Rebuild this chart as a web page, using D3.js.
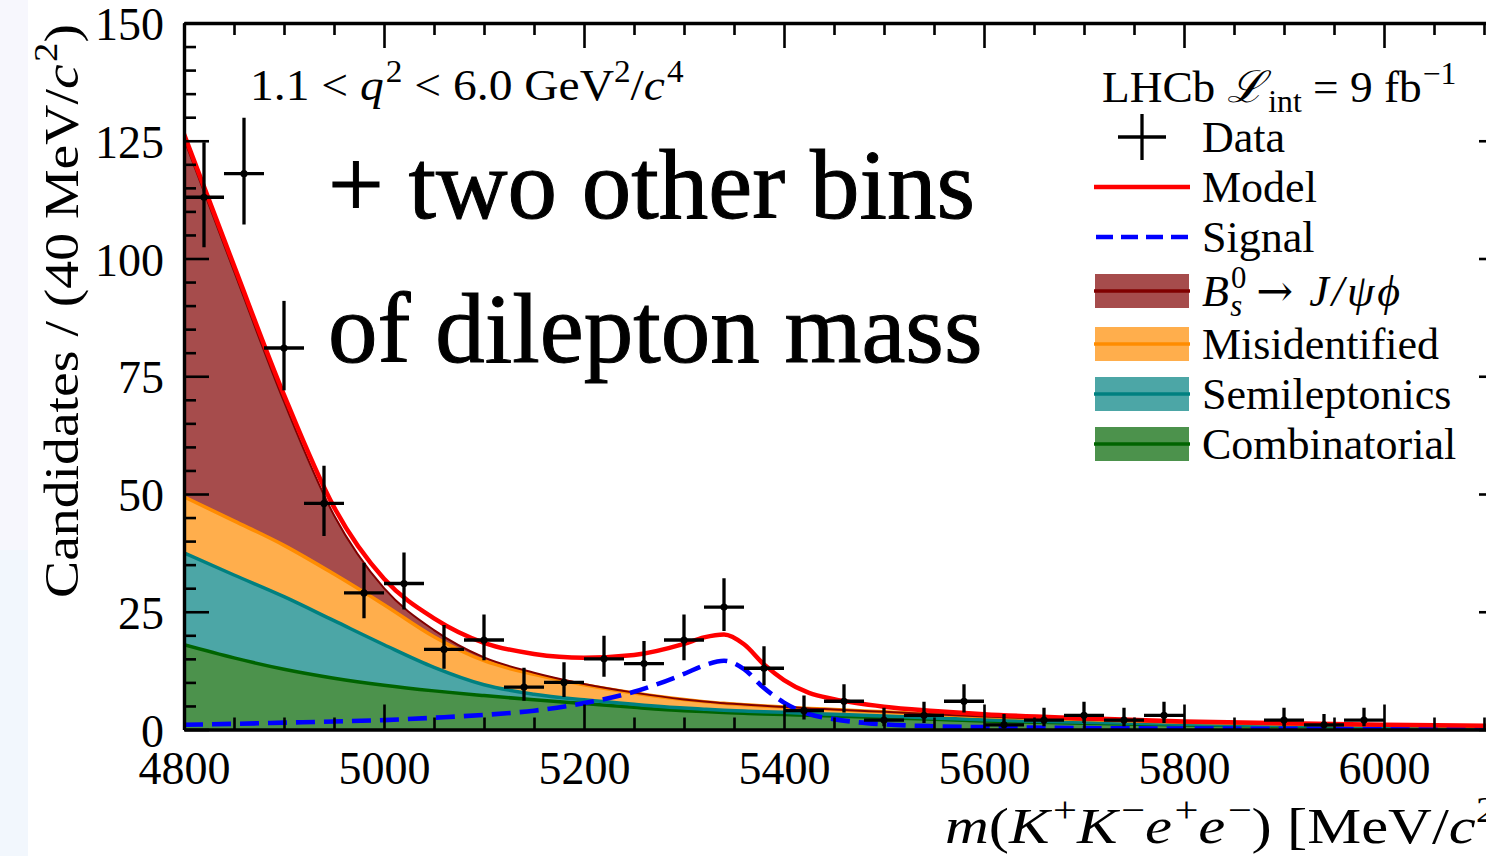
<!DOCTYPE html>
<html>
<head>
<meta charset="utf-8">
<script src="https://cdn.jsdelivr.net/npm/d3@7"></script>
<style>
  body { margin: 0; background: #fff; }
  svg { display: block; }
  text { font-family: "Liberation Serif", "Times New Roman", serif; fill: #000; }
</style>
</head>
<body>
<svg id="chart" width="1486" height="856"></svg>
<script>
// ---- measured candidates, 40 MeV bins (empty bins are not drawn) ----
const binCentres = [4820, 4860, 4900, 4940, 4980, 5020, 5060, 5100, 5140, 5180,
                    5220, 5260, 5300, 5340, 5380, 5420, 5460, 5500, 5540, 5580,
                    5620, 5660, 5700, 5740, 5780, 5900, 5940, 5980];
const counts     = [113, 118, 81, 48, 29, 31, 17, 19, 9, 10,
                    15, 14, 19, 26, 13, 4, 6, 2, 3, 6,
                    1, 2, 3, 2, 3, 2, 1, 2];
const errLow     = [10.6, 10.8, 9.0, 6.9, 5.4, 5.5, 4.1, 4.3, 2.9, 3.1,
                    3.8, 3.7, 4.3, 5.1, 3.6, 1.9, 2.4, 1.3, 1.6, 2.4,
                    0.8, 1.3, 1.6, 1.3, 1.6, 1.3, 0.8, 1.3];
const errHigh    = [11.7, 11.9, 10.0, 8.0, 6.4, 6.6, 5.2, 5.4, 4.1, 4.3,
                    4.9, 4.8, 5.4, 6.1, 4.7, 3.2, 3.6, 2.6, 2.9, 3.6,
                    2.3, 2.6, 2.9, 2.6, 2.9, 2.6, 2.3, 2.6];
const binHalfWidth = 20;

// ---- fit components, candidates per 40 MeV ----
const massGrid      = [4800, 4850, 4900, 4950, 5000, 5050, 5100, 5150, 5200, 5250,
                       5300, 5320, 5340, 5360, 5380, 5400, 5425, 5450, 5500, 5550,
                       5600, 5700, 5800, 5900, 6000, 6120];
const combinatorial = [18.0, 15.2, 12.8, 10.9, 9.4, 8.2, 7.2, 6.3, 5.5, 4.7,
                       4.0, 3.8, 3.6, 3.45, 3.3, 3.2, 3.0, 2.85, 2.5, 2.15,
                       1.8, 1.35, 0.95, 0.72, 0.55, 0.4];
const semileptonic  = [19.5, 17.6, 15.4, 12.2, 8.6, 5.0, 2.3, 1.2, 0.8, 0.65,
                       0.55, 0.52, 0.5, 0.48, 0.46, 0.44, 0.42, 0.4, 0.35, 0.3,
                       0.25, 0.2, 0.15, 0.12, 0.1, 0.08];
const misidentified = [11.9, 11.5, 10.9, 9.9, 8.5, 6.5, 5.1, 4.2, 3.2, 2.4,
                       1.8, 1.6, 1.45, 1.35, 1.25, 1.15, 1.05, 1.0, 0.9, 0.8,
                       0.7, 0.55, 0.42, 0.33, 0.27, 0.22];
const bsJpsiPhi     = [76.0, 53.0, 30.5, 12.5, 3.5, 1.4, 0.7, 0.35, 0.15, 0.08,
                       0.04, 0.03, 0.02, 0.02, 0.01, 0.01, 0, 0, 0, 0,
                       0, 0, 0, 0, 0, 0];
const signal        = [1.0, 1.2, 1.45, 1.7, 2.0, 2.5, 3.1, 4.0, 5.6, 8.0,
                       11.8, 13.6, 14.6, 12.8, 8.8, 5.7, 3.3, 2.2, 1.1, 0.7,
                       0.5, 0.3, 0.2, 0.15, 0.1, 0.08];

// ---- axes ----
const xDomain = [4800, 6120];
const yDomain = [0, 150];
const xTickValues = [4800, 5000, 5200, 5400, 5600, 5800, 6000];
const xTickLabels = ["4800", "5000", "5200", "5400", "5600", "5800", "6000"];
const yTickValues = [0, 25, 50, 75, 100, 125, 150];
const yTickLabels = ["0", "25", "50", "75", "100", "125", "150"];

// ---- colours ----
const componentKeys   = ["combinatorial", "semileptonic", "misidentified", "bsJpsiPhi"];
const componentColour = { combinatorial: "#006400", semileptonic: "#008080",
                          misidentified: "#ff8c00", bsJpsiPhi: "#800000" };
const componentEdge   = { combinatorial: 3.5, semileptonic: 3.5, misidentified: 3.5, bsJpsiPhi: 2 };

const svg = d3.select("#chart");
const W = 1486, H = 856;
const plot = { left: 184, right: 1504, top: 23, bottom: 729.5 };

svg.append("rect").attr("x", 0).attr("y", 0).attr("width", W).attr("height", H).attr("fill", "#fff");
svg.append("rect").attr("x", 0).attr("y", 0).attr("width", 28).attr("height", 550).attr("fill", "#f7f7fd");
svg.append("rect").attr("x", 0).attr("y", 550).attr("width", 28).attr("height", H - 550).attr("fill", "#f2f7fd");

const x = d3.scaleLinear().domain(xDomain).range([plot.left, plot.right]);
const y = d3.scaleLinear().domain(yDomain).range([plot.bottom, plot.top]);

svg.append("clipPath").attr("id", "plotClip").append("rect")
  .attr("x", plot.left).attr("y", plot.top)
  .attr("width", plot.right - plot.left).attr("height", plot.bottom - plot.top);

const g = svg.append("g").attr("clip-path", "url(#plotClip)");

// rows for stacking
const rows = massGrid.map((m, i) => ({
  m,
  combinatorial: combinatorial[i],
  semileptonic: semileptonic[i],
  misidentified: misidentified[i],
  bsJpsiPhi: bsJpsiPhi[i],
  signal: signal[i]
}));
const stacked = d3.stack().keys(componentKeys)(rows);
const curve = d3.curveMonotoneX;

const area = d3.area().curve(curve)
  .x(d => x(d.data.m)).y0(d => y(d[0])).y1(d => y(d[1]));
const topLine = d3.line().curve(curve)
  .x(d => x(d.data.m)).y(d => y(d[1]));

stacked.forEach(layer => {
  g.append("path").attr("d", area(layer))
    .attr("fill", componentColour[layer.key]).attr("fill-opacity", 0.7).attr("stroke", "none");
});
stacked.forEach(layer => {
  g.append("path").attr("d", topLine(layer))
    .attr("fill", "none").attr("stroke", componentColour[layer.key])
    .attr("stroke-width", componentEdge[layer.key]);
});

// signal (dashed) and total model
const signalLine = d3.line().curve(curve).x(d => x(d.m)).y(d => y(d.signal));
g.append("path").datum(rows).attr("d", signalLine)
  .attr("fill", "none").attr("stroke", "#0000ff").attr("stroke-width", 4.6)
  .attr("stroke-dasharray", "19,9");

const modelLine = d3.line().curve(curve).x(d => x(d.m))
  .y(d => y(componentKeys.reduce((s, k) => s + d[k], 0) + d.signal));
g.append("path").datum(rows).attr("d", modelLine)
  .attr("fill", "none").attr("stroke", "#ff0000").attr("stroke-width", 4.5);

// data with Poisson error bars
const points = binCentres.map((c, i) => ({ c, n: counts[i], lo: errLow[i], hi: errHigh[i] }));
const pg = svg.append("g").attr("clip-path", "url(#plotClip)");
points.forEach(p => {
  pg.append("line").attr("x1", x(p.c - binHalfWidth)).attr("x2", x(p.c + binHalfWidth))
    .attr("y1", y(p.n)).attr("y2", y(p.n)).attr("stroke", "#000").attr("stroke-width", 3.3);
  pg.append("line").attr("x1", x(p.c)).attr("x2", x(p.c))
    .attr("y1", y(p.n - p.lo)).attr("y2", y(p.n + p.hi)).attr("stroke", "#000").attr("stroke-width", 3.3);
  pg.append("circle").attr("cx", x(p.c)).attr("cy", y(p.n)).attr("r", 3.6).attr("fill", "#000");
});

// ---- axes: inward ticks on all four sides ----
const majorLen = 25, minorLen = 12;
const xMinor = d3.range(xDomain[0], xDomain[1] + 1, 50).filter(v => !xTickValues.includes(v));
const yMinor = d3.range(yDomain[0], yDomain[1] + 1, 5).filter(v => !yTickValues.includes(v));

function styleAxis(sel) {
  sel.selectAll("line").attr("stroke", "#000").attr("stroke-width", 2.6);
  sel.select(".domain").attr("stroke", "#000").attr("stroke-width", 3.4);
}
function minorAxis(sel) {
  sel.selectAll("line").attr("stroke", "#000").attr("stroke-width", 2.6);
  sel.select(".domain").remove();
}

const bottomAxis = svg.append("g").attr("transform", `translate(0,${plot.bottom})`)
  .call(d3.axisBottom(x).tickValues(xTickValues).tickFormat((d, i) => xTickLabels[i])
        .tickSizeInner(-majorLen).tickSizeOuter(0));
svg.append("g").attr("transform", `translate(0,${plot.bottom})`)
  .call(d3.axisBottom(x).tickValues(xMinor).tickFormat("").tickSizeInner(-minorLen).tickSizeOuter(0))
  .call(minorAxis);
bottomAxis.call(styleAxis);
bottomAxis.selectAll("text").attr("y", 54).attr("dy", null)
  .attr("font-size", 46).attr("font-family", "Liberation Serif, serif");

const topAxis = svg.append("g").attr("transform", `translate(0,${plot.top})`)
  .call(d3.axisTop(x).tickValues(xTickValues).tickFormat("").tickSizeInner(-majorLen).tickSizeOuter(0));
topAxis.call(styleAxis);
svg.append("g").attr("transform", `translate(0,${plot.top})`)
  .call(d3.axisTop(x).tickValues(xMinor).tickFormat("").tickSizeInner(-minorLen).tickSizeOuter(0))
  .call(minorAxis);

const leftAxis = svg.append("g").attr("transform", `translate(${plot.left},0)`)
  .call(d3.axisLeft(y).tickValues(yTickValues).tickFormat((d, i) => yTickLabels[i])
        .tickSizeInner(-majorLen).tickSizeOuter(0));
leftAxis.call(styleAxis);
leftAxis.selectAll("text").attr("x", -20).attr("dy", "0.36em")
  .attr("font-size", 46).attr("font-family", "Liberation Serif, serif");
svg.append("g").attr("transform", `translate(${plot.left},0)`)
  .call(d3.axisLeft(y).tickValues(yMinor).tickFormat("").tickSizeInner(-minorLen).tickSizeOuter(0))
  .call(minorAxis);

const rightAxis = svg.append("g").attr("transform", `translate(${plot.right},0)`)
  .call(d3.axisRight(y).tickValues(yTickValues).tickFormat("").tickSizeInner(-majorLen).tickSizeOuter(0));
rightAxis.call(styleAxis);
svg.append("g").attr("transform", `translate(${plot.right},0)`)
  .call(d3.axisRight(y).tickValues(yMinor).tickFormat("").tickSizeInner(-minorLen).tickSizeOuter(0))
  .call(minorAxis);

// ---- rich text helper: italics, superscripts, subscripts ----
function rich(sel, parts, size) {
  let shift = 0;
  parts.forEach(p => {
    const ts = sel.append("tspan").text(p.t);
    const target = p.sup ? -0.42 * size : p.sub ? 0.22 * size : 0;
    const dy = target - shift;
    if (dy) ts.attr("dy", dy);
    shift = target;
    if (p.dx) ts.attr("dx", p.dx);
    if (p.italic) ts.attr("font-style", "italic");
    if (p.family) ts.attr("font-family", p.family);
    if (p.spacing) ts.attr("letter-spacing", p.spacing);
    if (p.sup || p.sub) ts.attr("font-size", size * 0.7);
  });
}

// axis titles (horizontally widened to the proportions of the math typeface)
const ySize = 49;
rich(svg.append("text").attr("transform", "translate(78,24) rotate(-90) scale(1.137,1)")
  .attr("text-anchor", "end").attr("font-size", ySize),
  [{ t: "Candidates / (40 MeV/" }, { t: "c", italic: true }, { t: "2", sup: true, dx: 2 }, { t: ")" }], ySize);

const xSize = 51;
rich(svg.append("text").attr("transform", "translate(945,843) scale(1.19,1)")
  .attr("font-size", xSize),
  [{ t: "m", italic: true }, { t: "(" }, { t: "K", italic: true }, { t: "+", sup: true, dx: 3 },
   { t: "K", italic: true }, { t: "\u2212", sup: true, dx: 3 }, { t: "e", italic: true }, { t: "+", sup: true, dx: 2 },
   { t: "e", italic: true }, { t: "\u2212", sup: true, dx: 2 }, { t: ") [MeV/" }, { t: "c", italic: true },
   { t: "2", sup: true }, { t: "]" }], xSize);

// q² range
const qSize = 44;
rich(svg.append("text").attr("transform", "translate(250,100) scale(1.08,1)").attr("font-size", qSize),
  [{ t: "1.1 < " }, { t: "q", italic: true }, { t: "2", sup: true, dx: 2 }, { t: " < 6.0 GeV" },
   { t: "2", sup: true }, { t: "/" }, { t: "c", italic: true }, { t: "4", sup: true, dx: 2 }], qSize);

// large annotation
svg.append("text").attr("x", 328).attr("y", 218).attr("font-size", 99)
  .attr("stroke", "#000").attr("stroke-width", 1).text("+ two other bins");
svg.append("text").attr("x", 328).attr("y", 362).attr("font-size", 99)
  .attr("stroke", "#000").attr("stroke-width", 1).text("of dilepton mass");

// ---- legend ----
const legSize = 44;
rich(svg.append("text").attr("transform", "translate(1102,102) scale(1.03,1)").attr("font-size", legSize),
  [{ t: "LHCb " }, { t: "\u2112", italic: true }, { t: "int", sub: true, dx: 4 }, { t: " = 9 fb" },
   { t: "\u22121", sup: true, dx: 1 }], legSize);

const legendRows = [
  { key: "data",          y: 137, label: [{ t: "Data" }] },
  { key: "model",         y: 187, label: [{ t: "Model" }] },
  { key: "signal",        y: 237, label: [{ t: "Signal" }] },
  { key: "bsJpsiPhi",     y: 291, label: [{ t: "B", italic: true }, { t: "0", sup: true, dx: 2 },
                                          { t: "s", sub: true, italic: true, dx: -16 },
                                          { t: "\u2192", family: "DejaVu Serif, serif", dx: 14 },
                                          { t: "J/\u03c8\u03d5", italic: true, dx: 16, spacing: 3 }] },
  { key: "misidentified", y: 344, label: [{ t: "Misidentified" }] },
  { key: "semileptonic",  y: 394, label: [{ t: "Semileptonics" }] },
  { key: "combinatorial", y: 444, label: [{ t: "Combinatorial" }] }
];
const lg = svg.append("g");
const hx0 = 1095, hx1 = 1189;
legendRows.forEach(r => {
  if (r.key === "data") {
    const cx = (hx0 + hx1) / 2;
    lg.append("line").attr("x1", cx - 24).attr("x2", cx + 24).attr("y1", r.y).attr("y2", r.y)
      .attr("stroke", "#000").attr("stroke-width", 3.3);
    lg.append("line").attr("x1", cx).attr("x2", cx).attr("y1", r.y - 23).attr("y2", r.y + 23)
      .attr("stroke", "#000").attr("stroke-width", 3.3);
  } else if (r.key === "model") {
    lg.append("line").attr("x1", hx0 - 1).attr("x2", hx1 + 1).attr("y1", r.y).attr("y2", r.y)
      .attr("stroke", "#ff0000").attr("stroke-width", 4.5);
  } else if (r.key === "signal") {
    lg.append("line").attr("x1", hx0 + 1).attr("x2", hx1).attr("y1", r.y).attr("y2", r.y)
      .attr("stroke", "#0000ff").attr("stroke-width", 4.6).attr("stroke-dasharray", "17,8");
  } else {
    lg.append("rect").attr("x", hx0).attr("y", r.y - 17).attr("width", hx1 - hx0).attr("height", 34)
      .attr("fill", componentColour[r.key]).attr("fill-opacity", 0.7);
    lg.append("line").attr("x1", hx0 - 1).attr("x2", hx1 + 1).attr("y1", r.y).attr("y2", r.y)
      .attr("stroke", componentColour[r.key]).attr("stroke-width", 3.5);
  }
  rich(lg.append("text").attr("x", 1202).attr("y", r.y + 15).attr("font-size", legSize), r.label, legSize);
});
</script>
</body>
</html>
